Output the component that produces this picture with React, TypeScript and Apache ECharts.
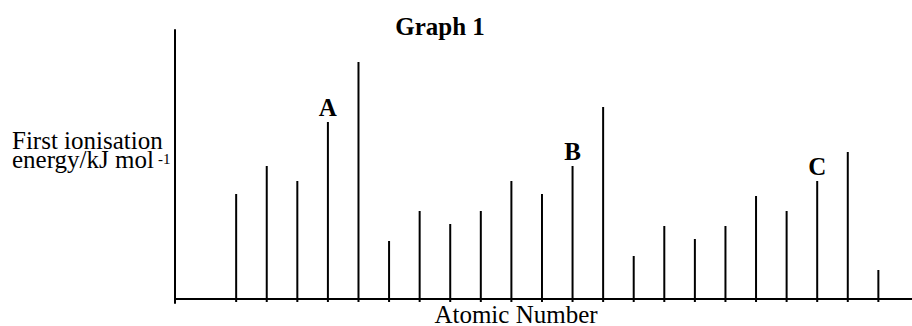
import React, { useEffect, useRef } from "react";
import * as echarts from "echarts";

// Atomic number positions (axis units) and relative first ionisation energies
const atomicPositions = [2, 3, 4, 5, 6, 7, 8, 9, 10, 11, 12, 13, 14, 15, 16, 17, 18, 19, 20, 21, 22, 23];
const ionisationValues = [105, 133, 118, 177, 237, 58, 88, 75, 88, 118, 105, 133, 192, 43, 73, 60, 73, 103, 88, 118, 147, 29];
const pointLabels = ["", "", "", "A", "", "", "", "", "", "", "", "B", "", "", "", "", "", "", "", "C", "", ""];

const titleText = "Graph 1";
const xAxisTitle = "Atomic Number";
const yAxisTitleLines = ["First ionisation", "energy/kJ mol"];
const yAxisTitleSup = "-1";

const SERIF = '"Liberation Serif", "Times New Roman", serif';

export default function App() {
  const ref = useRef<HTMLDivElement>(null);

  useEffect(() => {
    if (!ref.current) return;
    const chart = echarts.init(ref.current, undefined, { renderer: "svg" });
    const data = atomicPositions.map((x, i) => [x, ionisationValues[i]]);

    chart.setOption({
      animation: false,
      backgroundColor: "#ffffff",
      grid: { left: 175, right: 0, top: 30, bottom: 23 },
      xAxis: {
        type: "value",
        min: 0,
        max: 24.1,
        axisLine: { show: true, onZero: true, lineStyle: { color: "#000", width: 2 } },
        axisTick: { show: false },
        axisLabel: { show: false },
        splitLine: { show: false },
      },
      yAxis: {
        type: "value",
        min: -4,
        max: 269,
        axisLine: { show: true, lineStyle: { color: "#000", width: 2 } },
        axisTick: { show: false },
        axisLabel: { show: false },
        splitLine: { show: false },
      },
      series: [
        {
          type: "custom",
          data,
          renderItem: (params: any, api: any) => {
            const x = api.value(0);
            const v = api.value(1);
            const base = api.coord([x, 0]);
            const top = api.coord([x, v]);
            const children: any[] = [
              {
                type: "line",
                shape: { x1: base[0], y1: base[1] + 3, x2: top[0], y2: top[1] },
                style: { stroke: "#000", lineWidth: 2 },
              },
            ];
            const lab = pointLabels[params.dataIndex];
            if (lab) {
              children.push({
                type: "text",
                x: top[0],
                y: top[1] - 15,
                style: {
                  text: lab,
                  font: `bold 25px ${SERIF}`,
                  textAlign: "center",
                  textVerticalAlign: "middle",
                  fill: "#000",
                },
              });
            }
            return { type: "group", children };
          },
        },
      ],
      graphic: [
        {
          type: "text",
          x: 440,
          y: 26,
          style: { text: titleText, font: `bold 25px ${SERIF}`, textAlign: "center", textVerticalAlign: "middle", fill: "#000" },
        },
        {
          type: "text",
          x: 516,
          y: 314,
          style: { text: xAxisTitle, font: `25px ${SERIF}`, textAlign: "center", textVerticalAlign: "middle", fill: "#000" },
        },
        {
          type: "text",
          x: 12,
          y: 150,
          style: {
            text: yAxisTitleLines.join("\n"),
            font: `25px ${SERIF}`,
            lineHeight: 19,
            textAlign: "left",
            textVerticalAlign: "middle",
            fill: "#000",
          },
        },
        {
          type: "text",
          x: 158,
          y: 159,
          style: { text: yAxisTitleSup, font: `15px ${SERIF}`, textAlign: "left", textVerticalAlign: "middle", fill: "#000" },
        },
      ],
    });

    return () => chart.dispose();
  }, []);

  return <div ref={ref} style={{ position: "fixed", left: 0, top: 0, width: 912, height: 326 }} />;
}
